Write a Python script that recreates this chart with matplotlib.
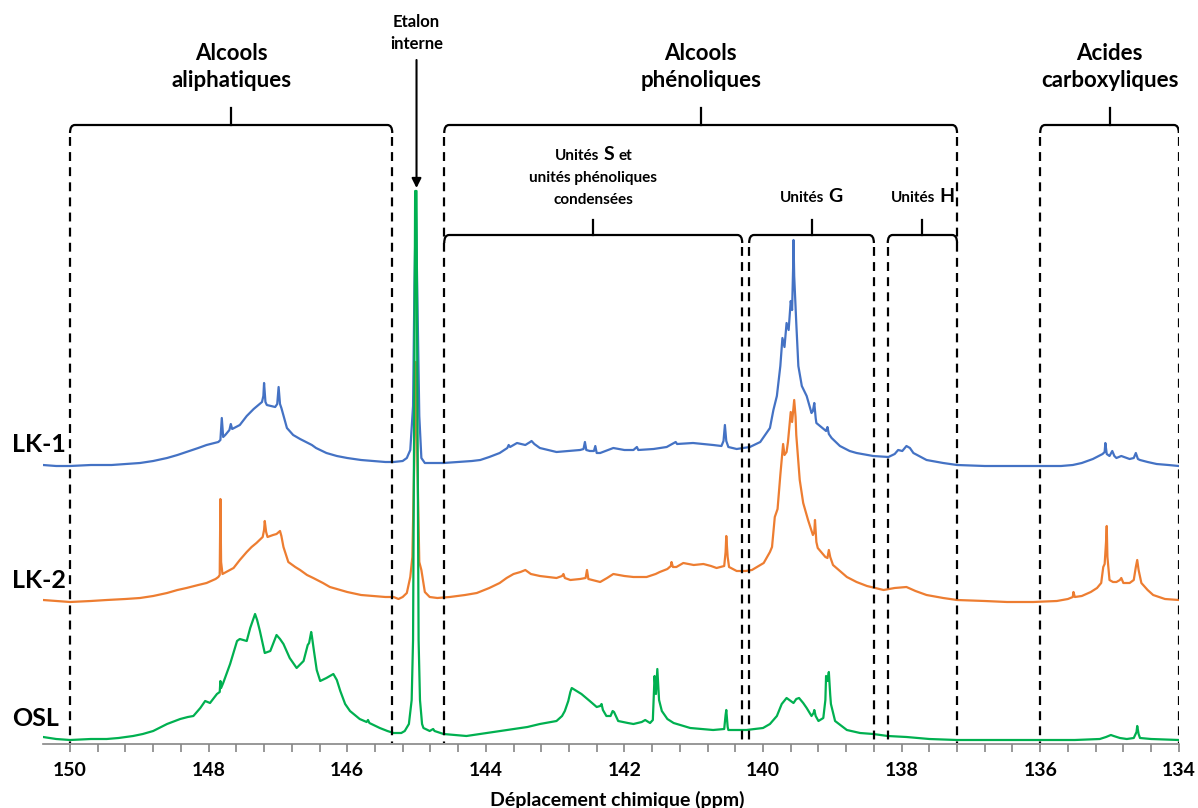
import matplotlib
matplotlib.use('Agg')
import matplotlib.pyplot as plt
from matplotlib.path import Path
from matplotlib.patches import PathPatch
from matplotlib.offsetbox import TextArea, HPacker, AnnotationBbox
from matplotlib.ticker import MultipleLocator
import numpy as np

plt.rcParams['font.family'] = ['Lato', 'DejaVu Sans']
plt.rcParams['font.weight'] = 'bold'

# spectra: (ppm, intensity above own baseline)
lk1_ppm = [150.39, 150.2, 150.0, 149.7, 149.4, 148.99, 148.8, 148.6, 148.45, 148.32, 148.15, 148.03,
           147.86, 147.83, 147.81, 147.79, 147.76, 147.70, 147.68, 147.66, 147.55, 147.45, 147.35, 147.23,
           147.21, 147.20, 147.18, 147.16, 147.04, 147.01, 146.99, 146.97, 146.95, 146.87, 146.78, 146.68,
           146.51, 146.45, 146.3, 146.15, 146.0, 145.8, 145.62, 145.45, 145.33, 145.2, 145.14, 145.09,
           145.05, 145.03, 145.01, 144.99, 144.96, 144.93, 144.88, 144.75, 144.61, 144.4, 144.2, 144.08,
           143.95, 143.8, 143.69, 143.67, 143.65, 143.55, 143.43, 143.36, 143.34, 143.3, 143.22, 143.1,
           142.98, 142.8, 142.64, 142.59, 142.57, 142.55, 142.5, 142.44, 142.42, 142.40, 142.35, 142.16,
           142.0, 141.87, 141.82, 141.80, 141.58, 141.39, 141.26, 141.24, 141.01, 140.72, 140.6, 140.57,
           140.55, 140.53, 140.5, 140.38, 140.19, 140.04, 139.9, 139.85, 139.8, 139.75, 139.72, 139.69,
           139.66, 139.63, 139.6, 139.58, 139.565, 139.56, 139.55, 139.52, 139.49, 139.44, 139.37, 139.3,
           139.28, 139.26, 139.24, 139.23, 139.09, 139.07, 139.05, 139.01, 138.89, 138.75, 138.65, 138.41,
           138.19, 138.1, 138.05, 137.99, 137.93, 137.88, 137.83, 137.64, 137.4, 137.2, 136.8, 136.48,
           136.0, 135.7, 135.53, 135.4, 135.24, 135.1, 135.07, 135.06, 135.04, 135.0, 134.96, 134.93,
           134.9, 134.83, 134.71, 134.65, 134.62, 134.59, 134.56, 134.45, 134.32, 134.15, 134.0]
lk1_int = [1, 0, 0, 1, 1, 3, 5, 8, 11, 14, 18, 21,
           24, 26, 48, 29, 31, 36, 42, 37, 41, 50, 57, 64,
           70, 83, 64, 61, 59, 62, 79, 62, 58, 38, 31, 27,
           21, 18, 13, 10, 8, 6, 5, 4, 4, 5, 8, 16,
           60, 180, 260, 180, 50, 8, 3, 3, 3, 4, 5, 6,
           9, 13, 18, 21, 19, 23, 21, 24, 25, 22, 18, 16,
           14, 15, 16, 17, 24, 16, 15, 15, 20, 13, 13, 18,
           16, 16, 19, 16, 17, 19, 24, 22, 23, 21, 20, 25,
           41, 25, 19, 17, 19, 24, 38, 56, 70, 100, 128, 119,
           143, 136, 165, 156, 200, 226, 190, 143, 100, 80, 70, 53,
           55, 63, 48, 43, 35, 39, 32, 28, 20, 15, 13, 10,
           9, 12, 16, 15, 20, 18, 13, 6, 3, 1, 0, 0,
           0, 0, 1, 3, 7, 12, 14, 23, 12, 10, 15, 10,
           8, 10, 7, 8, 13, 7, 6, 4, 2, 1, 0]

lk2_ppm = [150.39, 150.2, 150.0, 149.7, 149.47, 149.2, 148.99, 148.8, 148.6, 148.45, 148.32, 148.15,
           148.03, 147.9, 147.86, 147.84, 147.83, 147.82, 147.8, 147.72, 147.64, 147.55, 147.45, 147.38,
           147.31, 147.22, 147.20, 147.19, 147.17, 147.15, 147.07, 147.02, 146.97, 146.95, 146.92, 146.85,
           146.75, 146.68, 146.58, 146.49, 146.35, 146.25, 146.1, 146.0, 145.8, 145.62, 145.45, 145.33,
           145.26, 145.2, 145.14, 145.09, 145.06, 145.03, 145.01, 144.99, 144.96, 144.93, 144.88, 144.81,
           144.7, 144.52, 144.3, 144.13, 143.95, 143.8, 143.7, 143.6, 143.5, 143.43, 143.35, 143.22,
           143.1, 142.98, 142.9, 142.88, 142.86, 142.78, 142.64, 142.56, 142.54, 142.52, 142.35, 142.25,
           142.16, 142.0, 141.87, 141.68, 141.55, 141.49, 141.38, 141.33, 141.32, 141.30, 141.25, 141.15,
           141.0, 140.86, 140.75, 140.67, 140.56, 140.54, 140.53, 140.51, 140.49, 140.38, 140.25, 140.16,
           140.04, 139.99, 139.9, 139.87, 139.83, 139.79, 139.75, 139.71, 139.69, 139.66, 139.64, 139.6,
           139.58, 139.56, 139.55, 139.53, 139.52, 139.47, 139.42, 139.35, 139.28, 139.26, 139.25, 139.23,
           139.21, 139.1, 139.07, 139.05, 139.03, 138.99, 138.79, 138.65, 138.5, 138.26, 138.1, 137.93,
           137.8, 137.64, 137.4, 137.2, 136.8, 136.48, 136.1, 135.76, 135.6, 135.53, 135.52, 135.50,
           135.4, 135.27, 135.18, 135.12, 135.09, 135.07, 135.05, 135.04, 135.03, 135.0, 134.95, 134.9,
           134.85, 134.83, 134.80, 134.71, 134.65, 134.62, 134.60, 134.58, 134.54, 134.45, 134.37, 134.2,
           134.0]
lk2_int = [2, 1, 0, 1, 2, 3, 4, 6, 9, 12, 14, 17,
           19, 23, 25, 27, 103, 40, 28, 31, 34, 42, 50, 55,
           59, 65, 72, 81, 70, 65, 67, 68, 71, 66, 55, 40,
           35, 32, 27, 24, 19, 15, 12, 10, 7, 6, 5, 5,
           3, 5, 9, 25, 45, 150, 240, 150, 40, 32, 10, 5,
           4, 5, 7, 9, 14, 19, 24, 28, 30, 32, 28, 26,
           25, 24, 26, 28, 24, 22, 23, 24, 32, 23, 20, 24,
           28, 26, 25, 25, 28, 30, 33, 36, 40, 35, 35, 39,
           37, 38, 36, 34, 36, 50, 66, 45, 35, 31, 31, 32,
           37, 39, 50, 55, 85, 93, 127, 158, 147, 150, 160, 190,
           180, 195, 202, 185, 167, 122, 99, 82, 67, 70, 82, 60,
           54, 45, 44, 52, 45, 37, 25, 20, 16, 12, 14, 15,
           11, 7, 4, 2, 1, 0, 0, 1, 3, 5, 10, 5,
           6, 10, 14, 19, 35, 38, 60, 76, 45, 22, 20, 20,
           22, 24, 19, 19, 22, 35, 42, 32, 19, 12, 7, 3,
           2]

osl_ppm = [150.39, 150.2, 150.0, 149.7, 149.47, 149.3, 149.09, 148.95, 148.8, 148.6, 148.41, 148.3,
           148.22, 148.12, 148.05, 147.98, 147.88, 147.84, 147.83, 147.82, 147.79, 147.69, 147.59, 147.55,
           147.45, 147.4, 147.33, 147.3, 147.26, 147.19, 147.11, 147.02, 146.97, 146.92, 146.83, 146.73,
           146.63, 146.57, 146.55, 146.52, 146.51, 146.48, 146.44, 146.39, 146.3, 146.2, 146.15, 146.1,
           146.03, 145.96, 145.82, 145.72, 145.70, 145.68, 145.53, 145.42, 145.33, 145.22, 145.17, 145.11,
           145.07, 145.05, 145.03, 145.02, 145.0, 144.99, 144.97, 144.95, 144.92, 144.9, 144.81, 144.76,
           144.74, 144.61, 144.28, 143.99, 143.8, 143.6, 143.4, 143.22, 142.98, 142.9, 142.86, 142.81,
           142.78, 142.76, 142.69, 142.62, 142.5, 142.4, 142.35, 142.33, 142.31, 142.26, 142.2, 142.17,
           142.15, 142.09, 141.95, 141.87, 141.75, 141.7, 141.63, 141.59, 141.565, 141.545, 141.525, 141.5,
           141.46, 141.38, 141.29, 141.05, 140.72, 140.56, 140.54, 140.53, 140.51, 140.5, 140.24, 140.0,
           139.9, 139.8, 139.73, 139.66, 139.62, 139.56, 139.52, 139.48, 139.42, 139.37, 139.3, 139.27,
           139.26, 139.24, 139.2, 139.13, 139.10, 139.09, 139.07, 139.05, 139.03, 139.02, 138.96, 138.79,
           138.6, 138.41, 138.2, 137.93, 137.6, 137.2, 136.5, 136.0, 135.5, 135.14, 135.05, 134.98,
           134.94, 134.85, 134.75, 134.65, 134.61, 134.60, 134.58, 134.56, 134.4, 134.0]
osl_int = [3, 1, 0, 1, 1, 2, 4, 6, 9, 16, 21, 23,
           24, 32, 39, 37, 46, 48, 59, 52, 57, 76, 99, 101,
           99, 112, 126, 120, 109, 87, 89, 105, 101, 96, 82, 72,
           79, 95, 97, 108, 104, 89, 70, 59, 62, 66, 60, 49,
           36, 29, 21, 18, 20, 17, 12, 9, 7, 7, 9, 16,
           40, 100, 380, 549, 549, 380, 100, 40, 16, 12, 9, 11,
           9, 6, 4, 7, 9, 11, 13, 16, 19, 24, 29, 39,
           48, 52, 49, 46, 39, 33, 34, 36, 30, 24, 24, 29,
           28, 19, 17, 16, 18, 20, 17, 20, 64, 46, 71, 40,
           29, 21, 17, 12, 10, 11, 25, 30, 13, 10, 10, 12,
           16, 24, 36, 42, 40, 37, 41, 42, 37, 32, 24, 27,
           30, 24, 19, 22, 40, 64, 59, 68, 45, 36, 19, 10,
           7, 6, 4, 3, 1, 0, 0, 0, 0, 1, 3, 5,
           4, 2, 1, 2, 8, 14, 6, 2, 1, 0]

samples = ['LK-1', 'LK-2', 'OSL']
colors = ['#4472C4', '#ED7D31', '#00B050']

# regions (ppm, high -> low)
main_regions = [('Alcools\naliphatiques', 150.0, 145.35),
                ('Alcools\nphénoliques', 144.6, 137.2),
                ('Acides\ncarboxyliques', 136.0, 134.0)]
sub_regions = [('S', 144.6, 140.3), ('G', 140.2, 138.4), ('H', 138.2, 137.2)]
standard_ppm = 145.0

offsets = [278, 142, 4]

fig = plt.figure(figsize=(11.98, 8.08), dpi=100)
ax = fig.add_axes([43 / 1198, 64 / 808, 1135.8 / 1198, 744 / 808])

spectra = [(lk1_ppm, lk1_int), (lk2_ppm, lk2_int), (osl_ppm, osl_int)]
for (ppm, inten), off, col, name in zip(spectra, offsets, colors, samples):
	ax.plot(ppm, np.array(inten) + off, color=col, lw=1.6, zorder=2)
	ax.text(150.84, off + 21, name, fontsize=18, fontweight='bold', ha='left', va='center')

ax.set_xlim(150.39, 134.0)
ax.set_ylim(0, 744)

for s in ['left', 'right', 'top']:
	ax.spines[s].set_visible(False)
ax.spines['bottom'].set_color('#868686')
ax.spines['bottom'].set_linewidth(1.2)
ax.set_yticks([])
ax.xaxis.set_major_locator(MultipleLocator(2))
ax.xaxis.set_minor_locator(MultipleLocator(0.4))
ax.tick_params(axis='x', which='both', direction='out', length=6, width=1.2,
               color='#868686', labelsize=14, pad=7)
for lbl in ax.get_xticklabels():
	lbl.set_fontweight('bold')
fig.text(617 / 1198, 1 - 800 / 808, 'Déplacement chimique (ppm)', fontsize=14,
         fontweight='bold', ha='center', va='center')


def bracket(x0, x1, y, drop, rise, rx=0.07):
	verts = [(x0, y - drop), (x0, y), (x0 - rx, y), (x1 + rx, y), (x1, y), (x1, y - drop)]
	codes = [Path.MOVETO, Path.CURVE3, Path.CURVE3, Path.LINETO, Path.CURVE3, Path.CURVE3]
	ax.add_patch(PathPatch(Path(verts, codes), fill=False, lw=1.6, color='black', zorder=4))
	xm = (x0 + x1) / 2
	ax.plot([xm, xm], [y, y + rise], color='black', lw=1.6, zorder=4)


dash = (0, (4, 2.8))
top_y, sub_y = 619, 509
top_bounds = set()
for label, x0, x1 in main_regions:
	bracket(x0, x1, top_y, 8, 17)
	ax.text((x0 + x1) / 2, 677, label, fontsize=16, fontweight='bold', ha='center',
	        va='center', linespacing=1.35)
	top_bounds.update([x0, x1])
for b in top_bounds:
	ax.plot([b, b], [top_y - 12, 1], color='black', lw=1.6, ls=dash, zorder=5)

for letter, x0, x1 in sub_regions:
	bracket(x0, x1, sub_y, 8, 15)
	for b in (x0, x1):
		if b not in top_bounds:
			ax.plot([b, b], [sub_y - 12, 1], color='black', lw=1.6, ls=dash, zorder=5)


def mixed(parts, x, y):
	boxes = [TextArea(t, textprops=dict(fontsize=s, fontweight='bold', family='Lato'))
	         for t, s in parts]
	pack = HPacker(children=boxes, align='baseline', pad=0, sep=3)
	ab = AnnotationBbox(pack, (x, y), xycoords='data', frameon=False,
	                    box_alignment=(0.5, 0.5), pad=0)
	ax.add_artist(ab)


s_mid = (sub_regions[0][1] + sub_regions[0][2]) / 2
mixed([('Unités', 11), ('S', 14), ('et', 11)], s_mid, 589)
ax.text(s_mid, 566, 'unités phénoliques', fontsize=11, fontweight='bold', ha='center', va='center')
ax.text(s_mid, 544, 'condensées', fontsize=11, fontweight='bold', ha='center', va='center')
for letter, x0, x1 in sub_regions[1:]:
	mixed([('Unités', 11), (letter, 14)], (x0 + x1) / 2, 547)

ax.text(standard_ppm, 711, 'Etalon\ninterne', fontsize=12, fontweight='bold', ha='center',
        va='center', linespacing=1.4)
ax.annotate('', xy=(standard_ppm, 744 - 188), xytext=(standard_ppm, 744 - 60),
            arrowprops=dict(arrowstyle='-|>', color='black', lw=1.5, mutation_scale=14,
                            shrinkA=0, shrinkB=0))

plt.savefig('out.png', dpi=100)
